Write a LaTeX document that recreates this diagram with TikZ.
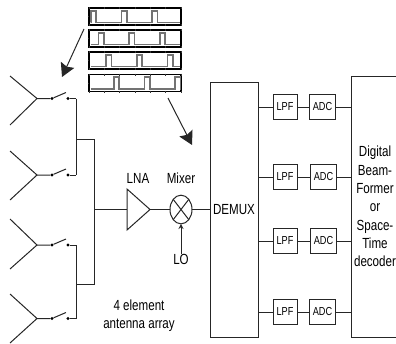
\documentclass[tikz,border=0pt]{standalone}
\usepackage{fontspec}
\setmainfont[FakeStretch=0.79]{Liberation Sans}
\usetikzlibrary{arrows.meta,shapes.geometric}
\begin{document}
\begin{tikzpicture}[
  x=0.75pt, y=-0.75pt,
  every node/.style={font=\fontsize{11}{13.7}\selectfont, inner sep=0pt, outer sep=0pt},
  wire/.style={draw=black!85, line width=0.75pt},
  filterbox/.style={draw=black!85, line width=0.75pt, minimum width=18pt, minimum height=19pt, font=\fontsize{8.7}{10}\selectfont},
  bigbox/.style={draw=black!85, line width=0.75pt, align=center},
  swdot/.style={circle, fill=black, minimum size=2.6pt},
  pulsebox/.style={draw=black, line width=1.1pt, minimum width=69pt, minimum height=13pt},
  bigarrow/.style={wire, -{Stealth[length=10pt, width=11pt, inset=1.5pt]}},
  >=stealth
]
\useasboundingbox (0,0) rectangle (396,343);
\clip (0,0) rectangle (396,343);

% Antennas and switches
\foreach \n/\yy/\top/\bot/\busy in {1/98.5/76/125/98.5, 2/175/151/200/175, 3/245/219/269/245, 4/318.5/294/343/318.5} {
  \coordinate (j\n) at (37,\yy);
  \coordinate (up\n) at (10,\top);
  \coordinate (dn\n) at (10,\bot);
  \coordinate (bl\n) at (66,\yy-6);
  \coordinate (bus\n) at (76,\yy);
  \node[swdot] (sa\n) at (52,\yy) {};
  \node[swdot] (sb\n) at (68,\yy) {};
  \draw[wire] (up\n) -- (j\n) -- (dn\n);
  \draw[wire] (j\n) -- (sa\n) -- (bl\n);
  \draw[wire] (sb\n) -- (bus\n);
}

% Bus lines
\coordinate (t1) at (76,139.5);
\coordinate (t2) at (94.5,139.5);
\coordinate (t3) at (76,284.5);
\coordinate (t4) at (94.5,284.5);
\coordinate (t5) at (94.5,209.5);
\draw[wire] (bus1) -- (bus2);
\draw[wire] (bus3) -- (bus4);
\draw[wire] (t1) -- (t2) -- (t4) -- (t3);

% Receiver chain
\node[isosceles triangle, isosceles triangle stretches, draw=black!85, line width=0.75pt, minimum width=30.75pt, minimum height=17.25pt, anchor=lower side] (lna) at (127,209.5) {};
\node[ellipse, draw=black!85, line width=0.75pt, minimum width=16.5pt, minimum height=21.5pt] (mix) at (181,209.5) {};
\draw[wire] (mix.north west) -- (mix.south east);
\draw[wire] (mix.north east) -- (mix.south west);
\node[bigbox, minimum width=36pt, minimum height=191.25pt] (demux) at (234,209.5) {DEMUX};
\node[bigbox, minimum width=36pt, minimum height=195.75pt] (dbf) at (375,206.5)
  {Digital\\Beam-\\Former\\or\\Space-\\Time\\decoder};

\node (lnat) at (138,178) {LNA};
\node (mixt) at (181,178) {Mixer};
\node (lo) at (181,259) {LO};
\node[align=center, font=\fontsize{11}{13.5}\selectfont] (arr) at (139,316) {4 element\\antenna array};

\draw[wire] (t5) -- (lna.lower side);
\draw[wire] (lna.apex) -- (mix);
\draw[wire] (mix) -- (demux.west);
\draw[wire, ->] (lo.north) -- (mix.south);

% LPF and ADC rows
\foreach \n/\yy/\adcx in {1/107/322.5, 2/177/323.5, 3/241/323.5, 4/312/322.5} {
  \node[filterbox] (lpf\n) at (285,\yy) {LPF};
  \node[filterbox, minimum width=20pt] (adc\n) at (\adcx,\yy) {ADC};
  \draw[wire] (lpf\n -| demux.east) -- (lpf\n);
  \draw[wire] (lpf\n) -- (adc\n);
  \draw[wire] (adc\n) -- (adc\n -| dbf.west);
}

% Pulse trains
\foreach \n/\yy/\off in {1/16.5/0, 2/38.5/7.7, 3/60.5/15.3, 4/83/23} {
  \node[pulsebox] (pb\n) at (135,\yy) {};
  \foreach \tx in {0,15.3,...,92} {
    \draw[black!80, line width=0.4pt] (89+\tx,\yy-9.5) -- (89+\tx,\yy-7.5);
    \draw[black!80, line width=0.4pt] (89+\tx,\yy+7.5) -- (89+\tx,\yy+9.5);
  }
  \draw[black!80, line width=0.4pt] (87.5,\yy) -- (89,\yy);
  \draw[black!55, line width=1.2pt, line join=miter]
    (90.5,\yy+5.8)
    -- (90.7+\off,\yy+5.8) -- (90.7+\off,\yy-5.8) -- (96+\off,\yy-5.8) -- (96+\off,\yy+5.8)
    -- (121.4+\off,\yy+5.8) -- (121.4+\off,\yy-5.8) -- (126.8+\off,\yy-5.8) -- (126.8+\off,\yy+5.8)
    -- (152.1+\off,\yy+5.8) -- (152.1+\off,\yy-5.8) -- (157.5+\off,\yy-5.8) -- (157.5+\off,\yy+5.8)
    -- (180,\yy+5.8);
}

% Pointers from the pulse trains
\coordinate (pa) at (84,29);
\coordinate (pb) at (62,77);
\coordinate (pc) at (168,98);
\coordinate (pd) at (192,145);
\draw[bigarrow] (pa) -- (pb);
\draw[bigarrow] (pc) -- (pd);
\end{tikzpicture}
\end{document}
